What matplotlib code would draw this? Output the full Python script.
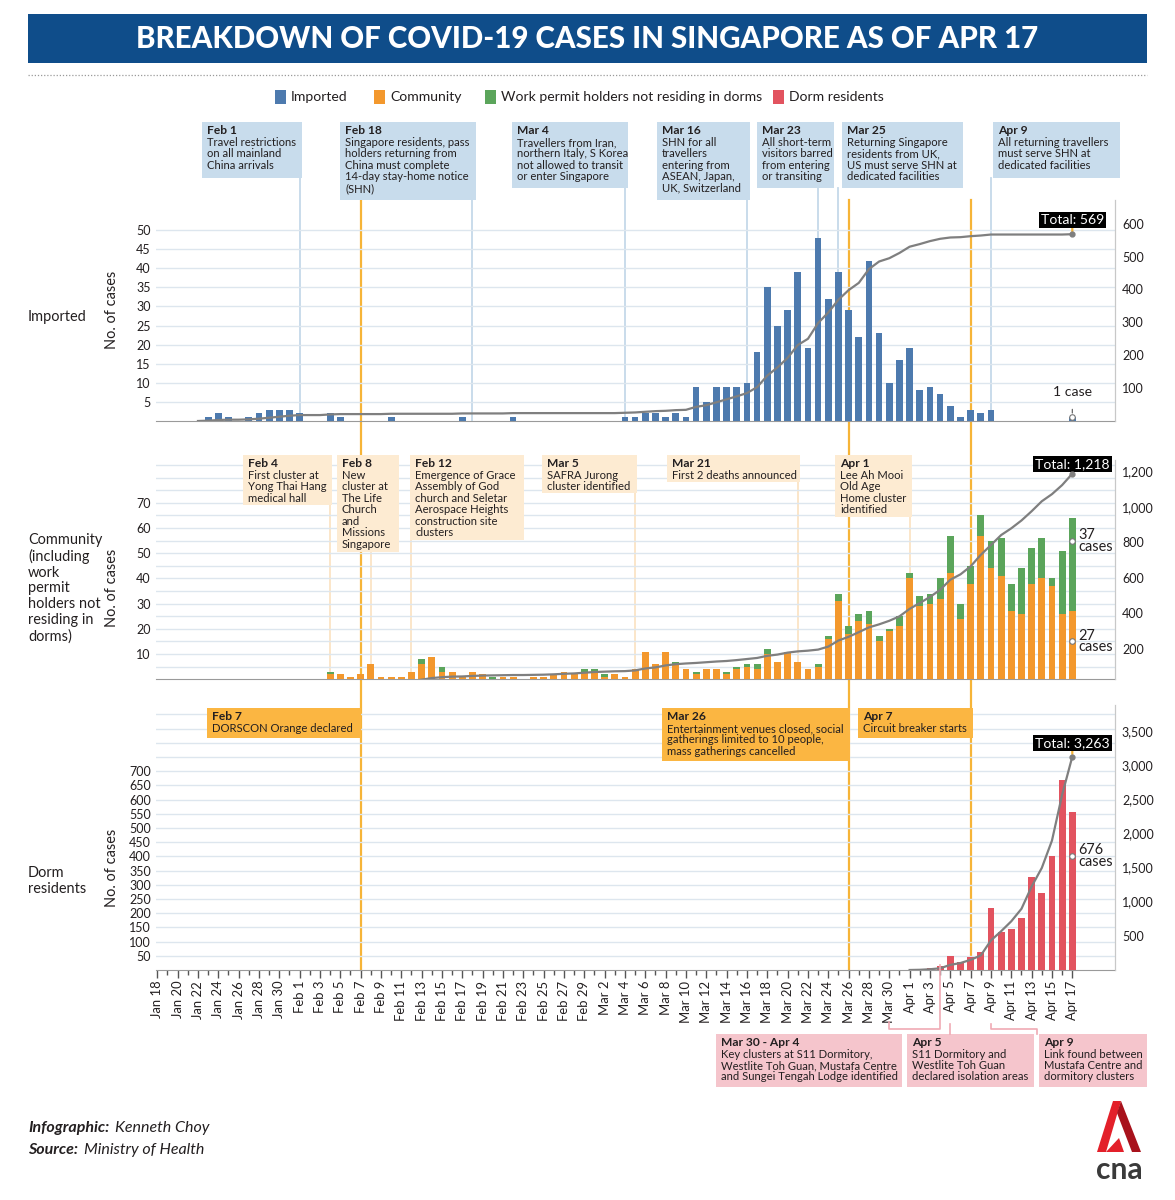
import numpy as np
import pandas as pd
import matplotlib.pyplot as plt
import matplotlib.transforms as mtransforms
from matplotlib.patches import Rectangle, Polygon
from matplotlib.lines import Line2D

plt.rcParams['font.family'] = ['Lato', 'DejaVu Sans']

W, H = 1175, 1200

# daily cases, Jan 18 - Apr 17 2020
dates = pd.date_range('2020-01-18', '2020-04-17')
days = np.arange(len(dates))

imported = np.array(
    [0, 0, 0, 0, 0, 1, 2, 1, 0, 1, 2, 3, 3, 3] +                          # Jan 18-31
    [2, 0, 0, 2, 1, 0, 0, 0, 0, 1, 0, 0, 0, 0, 0, 0, 1,                   # Feb 1-17
     0, 0, 0, 0, 1, 0, 0, 0, 0, 0, 0, 0] +                                # Feb 18-29
    [0, 0, 0, 1, 1, 2, 2, 1, 2, 1, 9, 5, 9, 9, 9, 10, 18,                 # Mar 1-17
     35, 25, 29, 39, 19, 48, 32, 39, 29, 22, 42, 23, 10, 16] +            # Mar 18-31
    [19, 8, 9, 7, 4, 1, 3, 2, 3, 0, 0, 0, 0, 0, 0, 0, 1])                 # Apr 1-17

community = np.array(
    [0] * 14 +
    [0, 0, 0, 2, 2, 1, 2, 6, 1, 1, 1, 3, 6, 9, 3, 3, 1,
     3, 2, 0, 1, 1, 0, 1, 1, 2, 3, 2, 3] +
    [3, 1, 2, 1, 4, 11, 6, 11, 6, 4, 2, 4, 4, 2, 4, 5, 4,
     10, 7, 11, 7, 4, 5, 16, 31, 18, 23, 22, 15, 19, 21] +
    [40, 29, 30, 32, 42, 24, 38, 57, 44, 41, 27, 26, 38, 40, 37, 26, 27])

work_permit = np.array(
    [0] * 14 +
    [0, 0, 0, 1, 0, 0, 0, 0, 0, 0, 0, 0, 2, 0, 2, 0, 0,
     0, 0, 1, 0, 0, 0, 0, 0, 0, 0, 0, 1] +
    [1, 1, 0, 0, 0, 0, 0, 0, 1, 0, 1, 0, 0, 1, 1, 1, 2,
     2, 0, 0, 0, 0, 1, 1, 3, 3, 3, 5, 2, 1, 4] +
    [2, 4, 4, 8, 15, 6, 7, 8, 11, 15, 11, 18, 14, 16, 3, 25, 37])

dorm = np.array(
    [0] * 14 + [0] * 29 + [0] * 31 +
    [0, 3, 8, 14, 50, 27, 47, 64, 220, 134, 146, 182, 326, 272, 400, 670, 557])

totals = {'imported': 569, 'community': 1218, 'dorm': 3263}

C_IMP = '#4d7aae'
C_COM = '#f3982d'
C_WP = '#5ba55b'
C_DORM = '#e2535f'
C_LINE = '#7f7f7f'
C_GOLD = '#f6b437'
C_GRID = '#dde6ee'
C_TXT = '#231f20'


def pt(px):
    return px * 0.72


def ftext(x, y, s, size, **kw):
    kw.setdefault('color', C_TXT)
    return fig.text(x / W, 1 - y / H, s, fontsize=pt(size), **kw)


def frect(x0, y0, x1, y1, color, z=2):
    fig.add_artist(Rectangle((x0 / W, 1 - y1 / H), (x1 - x0) / W, (y1 - y0) / H,
                             transform=fig.transFigure, facecolor=color,
                             edgecolor='none', zorder=z))


def fline(xs, ys, color, lw=1.2, z=2, **kw):
    fig.add_artist(Line2D([x / W for x in xs], [1 - y / H for y in ys],
                          transform=fig.transFigure, color=color, lw=lw,
                          zorder=z, **kw))


fig = plt.figure(figsize=(W / 100, H / 100), dpi=100)

AX_L, AX_R = 156.3, 1115
XMIN, XMAX = -0.1, 94.2


def add_panel(top, bottom):
    ax = fig.add_axes([AX_L / W, 1 - bottom / H, (AX_R - AX_L) / W, (bottom - top) / H])
    ax.set_zorder(1)
    ax.patch.set_visible(False)
    ax.set_xlim(XMIN, XMAX)
    for s in ['top', 'left']:
        ax.spines[s].set_visible(False)
    ax.spines['right'].set_color('#c8c8c8')
    ax.spines['bottom'].set_color('#9a9a9a')
    ax.tick_params(axis='y', length=0, labelsize=pt(12.5), pad=4, colors=C_TXT)
    ax.grid(axis='y', color=C_GRID, lw=1)
    ax.set_axisbelow(True)
    ax2 = ax.twinx()
    ax2.set_xlim(XMIN, XMAX)
    for s in ['top', 'left', 'bottom']:
        ax2.spines[s].set_visible(False)
    ax2.spines['right'].set_color('#c8c8c8')
    ax2.tick_params(axis='y', length=0, labelsize=pt(12.5), pad=5, colors=C_TXT)
    return ax, ax2


def cum_line(ax2, vals, total, off):
    cum = np.cumsum(vals)
    start = max(int(np.argmax(vals > 0)) - 1, 0)
    ax2.plot(days[start:], cum[start:], color=C_LINE, lw=1.6)
    ax2.plot(days[-1], cum[-1], 'o', ms=3.5, color=C_LINE, zorder=5)
    ax2.annotate(f'Total: {total:,}', xy=(days[-1], cum[-1]), xytext=(0, off),
                 textcoords='offset pixels', ha='center', va='center',
                 color='white', fontsize=pt(14),
                 bbox=dict(boxstyle='square,pad=0.15', fc='black', ec='none'),
                 arrowprops=dict(arrowstyle='-', color=C_GOLD, lw=1.6,
                                 shrinkA=0, shrinkB=2))


def callout(ax, y, s):
    ax.plot(days[-1], y, 'o', ms=4, mfc='white', mec='#777', mew=0.8, zorder=6)
    ax.annotate(s, xy=(days[-1], y), xytext=(6, 0), textcoords='offset pixels',
                ha='left', va='center', fontsize=pt(14.5), linespacing=0.8,
                color=C_TXT, annotation_clip=False)


# ---------------- imported
ax_i, ax_i2 = add_panel(200, 421)
ax_i.bar(days, imported, width=0.66, color=C_IMP, zorder=3)
ax_i.set_ylim(0, 57.9)
ax_i.set_yticks(range(5, 55, 5))
ax_i.set_xticks([])
ax_i2.set_ylim(0, 672)
ax_i2.set_yticks(range(100, 700, 100))
cum_line(ax_i2, imported, totals['imported'], 14)
ax_i.plot(days[-1], imported[-1], 'o', ms=4, mfc='white', mec='#777', mew=0.8, zorder=6)
ax_i.annotate('1 case', xy=(days[-1], imported[-1]), xytext=(0, 25),
              textcoords='offset pixels', ha='center', va='center',
              fontsize=pt(14), color=C_TXT,
              arrowprops=dict(arrowstyle='-', color='#555', lw=0.8,
                              shrinkA=6, shrinkB=3))

# ---------------- community
ax_c, ax_c2 = add_panel(460, 679.3)
ax_c.bar(days, community, width=0.68, color=C_COM, zorder=3)
ax_c.bar(days, work_permit, width=0.68, bottom=community, color=C_WP, zorder=3)
ax_c.set_ylim(0, 87)
ax_c.set_yticks(range(5, 90, 5))
ax_c.set_yticklabels([str(v) if v % 10 == 0 and v <= 70 else '' for v in range(5, 90, 5)])
ax_c.set_xticks([])
ax_c2.set_ylim(30, 1263)
ax_c2.set_yticks(range(200, 1400, 200))
ax_c2.set_yticklabels([f'{v:,}' for v in range(200, 1400, 200)])
cum_line(ax_c2, community + work_permit, totals['community'], 10)
callout(ax_c, 55, '37\ncases')
callout(ax_c, 15, '27\ncases')

# ---------------- dorm
ax_d, ax_d2 = add_panel(705, 970)
ax_d.bar(days, dorm, width=0.68, color=C_DORM, zorder=3)
ax_d.set_ylim(0, 933)
ax_d.set_yticks(range(50, 950, 50))
ax_d.set_yticklabels([str(v) if v <= 700 else '' for v in range(50, 950, 50)])
ax_d2.set_ylim(0, 3876)
ax_d2.set_yticks(range(500, 4000, 500))
ax_d2.set_yticklabels([f'{v:,}' for v in range(500, 4000, 500)])
cum_line(ax_d2, dorm, totals['dorm'], 14)
callout(ax_d, 400, '676\ncases')

ax_d.set_xticks(days[::2])
ax_d.set_xticklabels([f"{d.strftime('%b')} {d.day}" for d in dates[::2]],
                     rotation=90, fontsize=pt(13), color=C_TXT)
ax_d.set_xticks(days, minor=True)
ax_d.tick_params(axis='x', which='major', length=pt(8), width=1, color='#555', pad=2)
ax_d.tick_params(axis='x', which='minor', length=pt(4.5), width=1, color='#555')

# ---------------- title, legend
frect(28, 14, 1147, 63, '#0f4d8a')
ftext(587.5, 39, 'BREAKDOWN OF COVID-19 CASES IN SINGAPORE AS OF APR 17', 29.5,
      color='white', weight='black', ha='center', va='center')
fline([28, 1147], [75, 75], '#9a9a9a', lw=0.9, linestyle=(0, (1, 1.5)))

for x, label, c in [(275, 'Imported', C_IMP), (374, 'Community', C_COM),
                    (485, 'Work permit holders not residing in dorms', C_WP),
                    (773, 'Dorm residents', C_DORM)]:
    frect(x, 90, x + 11, 104, c)
    ftext(x + 16, 97, label, 14, ha='left', va='center')

# ---------------- panel labels
ftext(28, 317, 'Imported', 14.5, ha='left', va='center')
ftext(28, 588, 'Community\n(including\nwork\npermit\nholders not\nresiding in\ndorms)', 14.5,
      ha='left', va='center', linespacing=1.17)
ftext(28, 881, 'Dorm\nresidents', 14.5, ha='left', va='center', linespacing=1.17)
for yc in [310, 588, 868]:
    ftext(112, yc, 'No. of cases', 14.5, rotation=90, ha='center', va='center')

# ---------------- event lines and boxes
xtr = mtransforms.blended_transform_factory(ax_d.transData, fig.transFigure)


def vline(day, y0, y1, color, lw):
    fig.add_artist(Line2D([day, day], [1 - y0 / H, 1 - y1 / H], transform=xtr,
                          color=color, lw=lw, zorder=0.5))


def event_box(rect, title, body, color, size=11.3, pitch=1.05):
    x0, y0, x1, y1 = rect
    frect(x0, y0, x1, y1, color)
    ftext(x0 + 5, y0 + 3, title, size + 0.7, weight='bold', ha='left', va='top')
    ftext(x0 + 5, y0 + 15, body, size, ha='left', va='top', linespacing=pitch)


imported_events = [
    (14, 'Feb 1', 'Travel restrictions\non all mainland\nChina arrivals', (202, 122, 302, 178)),
    (31, 'Feb 18', 'Singapore residents, pass\nholders returning from\nChina must complete\n'
                   '14-day stay-home notice\n(SHN)', (340, 122, 476, 200)),
    (46, 'Mar 4', 'Travellers from Iran,\nnorthern Italy, S Korea\nnot allowed to transit\n'
                  'or enter Singapore', (512, 122, 628, 188)),
    (58, 'Mar 16', 'SHN for all\ntravellers\nentering from\nASEAN, Japan,\nUK, Switzerland',
     (657, 122, 750, 200)),
    (65, 'Mar 23', 'All short-term\nvisitors barred\nfrom entering\nor transiting', (757, 122, 834, 188)),
    (67, 'Mar 25', 'Returning Singapore\nresidents from UK,\nUS must serve SHN at\n'
                   'dedicated facilities', (842, 122, 963, 188)),
    (82, 'Apr 9', 'All returning travellers\nmust serve SHN at\ndedicated facilities',
     (993, 122, 1120, 178)),
]
for day, t, b, rect in imported_events:
    vline(day, rect[3], 421, '#c5d9e9', 1.3)
    event_box(rect, t, b, '#c8dcec')

community_events = [
    (17, 'Feb 4', 'First cluster at\nYong Thai Hang\nmedical hall', (243, 455, 332, 505)),
    (21, 'Feb 8', 'New\ncluster at\nThe Life\nChurch\nand\nMissions\nSingapore', (337, 455, 399, 552)),
    (25, 'Feb 12', 'Emergence of Grace\nAssembly of God\nchurch and Seletar\nAerospace Heights\n'
                   'construction site\nclusters', (410, 455, 524, 540)),
    (47, 'Mar 5', 'SAFRA Jurong\ncluster identified', (542, 455, 637, 493)),
    (63, 'Mar 21', 'First 2 deaths announced', (667, 455, 800, 482)),
    (74, 'Apr 1', 'Lee Ah Mooi\nOld Age\nHome cluster\nidentified', (835, 455, 912, 517)),
]
for day, t, b, rect in community_events:
    vline(day, rect[3], 679, '#fbe2c0', 1.2)
    event_box(rect, t, b, '#fdebd2')

dorm_events = [
    (20, 'Feb 7', 'DORSCON Orange declared', (207, 708, 361, 738)),
    (68, 'Mar 26', 'Entertainment venues closed, social\ngatherings limited to 10 people,\n'
                   'mass gatherings cancelled', (662, 708, 850, 761)),
    (80, 'Apr 7', 'Circuit breaker starts', (858, 708, 973, 738)),
]
for day, t, b, rect in dorm_events:
    vline(day, 200, 970, C_GOLD, 1.6)
    event_box(rect, t, b, '#fbb642')

# ---------------- dorm cluster notes under the axis
C_PINK = '#f5c5cc'
C_PLINE = '#f0aab4'
pink_events = [
    ('Mar 30 - Apr 4', 'Key clusters at S11 Dormitory,\nWestlite Toh Guan, Mustafa Centre\n'
                       'and Sungei Tengah Lodge identified', (716, 1034, 902, 1087)),
    ('Apr 5', 'S11 Dormitory and\nWestlite Toh Guan\ndeclared isolation areas', (907, 1034, 1034, 1087)),
    ('Apr 9', 'Link found between\nMustafa Centre and\ndormitory clusters', (1039, 1034, 1147, 1087)),
]
for t, b, rect in pink_events:
    event_box(rect, t, b, C_PINK, size=11.3, pitch=1.0)

btr = mtransforms.blended_transform_factory(ax_d.transData, fig.transFigure)
for xs, ys in [([72, 72, 77, 77], [1022, 1029, 1029, 965]),
               ([78, 78], [1024, 1034]),
               ([82, 82, 86.5, 86.5], [1024, 1029, 1029, 1034])]:
    fig.add_artist(Line2D(xs, [1 - y / H for y in ys], transform=btr,
                          color=C_PLINE, lw=1.2, zorder=2))

# ---------------- footer
ftext(28, 1128, 'Infographic:', 16, weight='bold', style='italic', ha='left', va='center')
ftext(115, 1128, 'Kenneth Choy', 16, style='italic', ha='left', va='center')
ftext(28, 1150, 'Source:', 16, weight='bold', style='italic', ha='left', va='center')
ftext(84, 1150, 'Ministry of Health', 16, style='italic', ha='left', va='center')

# cna logo
def fpoly(pts, color):
    fig.add_artist(Polygon([(x / W, 1 - y / H) for x, y in pts], closed=True,
                           transform=fig.transFigure, facecolor=color,
                           edgecolor='none', zorder=3))


fpoly([(1097, 1152), (1113, 1101), (1121, 1101), (1106, 1152)], '#e3202a')
fpoly([(1121, 1101), (1141, 1152), (1132, 1152), (1117, 1113)], '#a8121c')
fpoly([(1106, 1152), (1119, 1138), (1124, 1152)], '#e3202a')
ftext(1119, 1170, 'cna', 30, weight='bold', color='#3a3a3a', ha='center', va='center')

fig.savefig('out.png', dpi=100)
